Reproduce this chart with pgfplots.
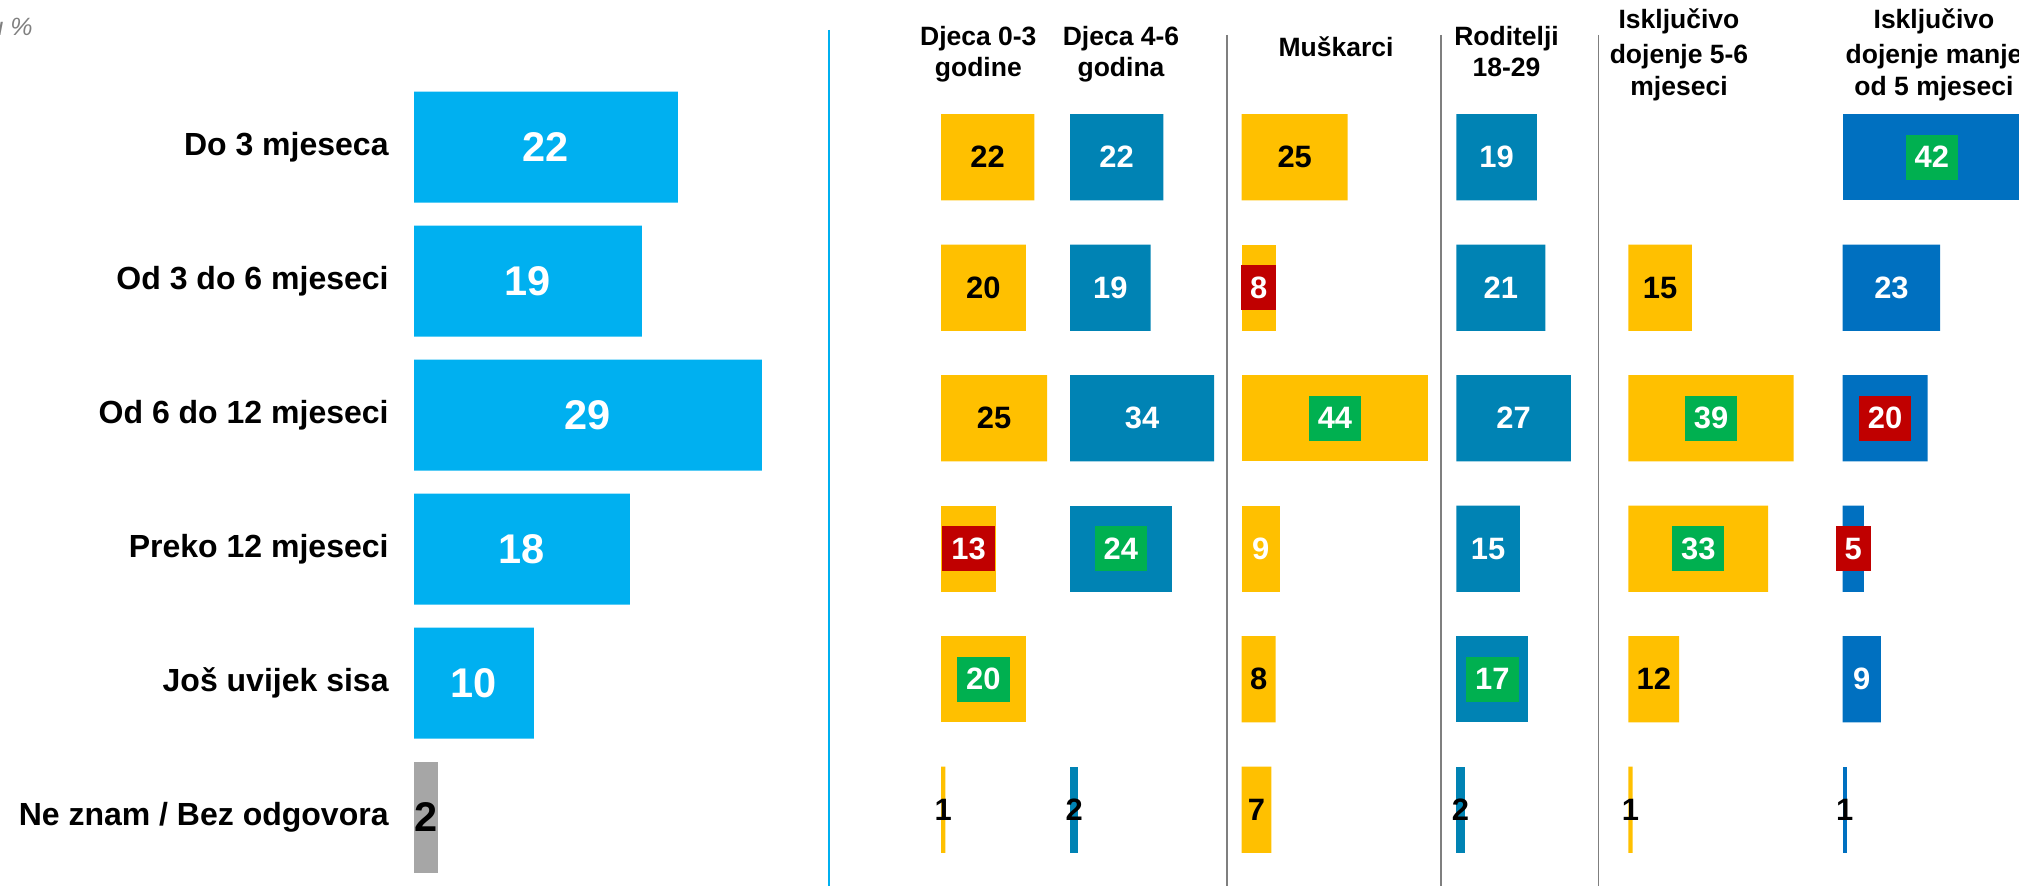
\documentclass[border=0pt]{standalone}
\usepackage{pgfplots}
\pgfplotsset{compat=1.18}
\usepackage{fontspec}
\setmainfont{Liberation Sans}
\definecolor{cLB}{HTML}{00B0F0}
\definecolor{cYel}{HTML}{FFC000}
\definecolor{cTeal}{HTML}{0083B4}
\definecolor{cBlue}{HTML}{0070C0}
\definecolor{cGray}{HTML}{A6A6A6}
\definecolor{cRed}{HTML}{C00000}
\definecolor{cGreen}{HTML}{00B050}
\definecolor{cSep}{HTML}{7F7F7F}
\newcommand\lblfont{\fontsize{16pt}{18pt}\selectfont\bfseries}
\newcommand\bignum{\fontsize{20.75pt}{24pt}\selectfont\bfseries}
\newcommand\numfont{\fontsize{15.45pt}{18pt}\selectfont\bfseries}
\newcommand\hdrfont{\fontsize{13.25pt}{16pt}\selectfont\bfseries}
\pgfplotsset{
  blk/.style={every node near coord/.append style={text=black}},
  wht/.style={every node near coord/.append style={text=white}},
  redlab/.style={every node near coord/.append style={text=white, fill=cRed, minimum height=22.5pt, inner xsep=4.5pt, inner ysep=0pt}},
  grnlab/.style={every node near coord/.append style={text=white, fill=cGreen, minimum height=22.5pt, inner xsep=4.5pt, inner ysep=0pt}},
  rcol/.style={xbar, bar shift=0pt, bar width=43.15pt, scale only axis,
    width=95.4pt, height=391.5pt, xmin=0, xmax=45, ymin=-0.5, ymax=5.5,
    y dir=reverse, hide axis, clip=false, anchor=north west,
    nodes near coords, point meta=explicit symbolic,
    visualization depends on={rawx \as \rawx},
    every node near coord/.append style={anchor=center, xshift={-\rawx*1.06pt}, font=\numfont},
    every axis plot/.append style={draw=none}},
}
\begin{document}
\begin{tikzpicture}
\path[use as bounding box] (0,0) rectangle (1009.5pt,443pt);
% separators
\draw[cLB, line width=0.6pt] (414.5pt,428pt) -- (414.5pt,0pt);
\draw[cSep, line width=0.8pt] (613.35pt,425.5pt) -- (613.35pt,0pt);
\draw[cSep, line width=0.8pt] (720.5pt,425.5pt) -- (720.5pt,0pt);
\draw[cSep, line width=0.8pt] (799.15pt,425.5pt) -- (799.15pt,0pt);
% corner note
\node[anchor=base east, inner sep=0pt, text=cSep, font=\fontsize{12.5pt}{15pt}\selectfont\itshape] at (16.5pt,425pt) {u \%};
% headers
\tikzset{hdr/.style={anchor=base, inner sep=0pt, font=\hdrfont}}
\node[hdr] at (489.15pt,420pt) {Djeca 0-3};
\node[hdr] at (489.15pt,404.7pt) {godine};
\node[hdr] at (560.5pt,420pt) {Djeca 4-6};
\node[hdr] at (560.5pt,404.7pt) {godina};
\node[hdr] at (668pt,414.85pt) {Muškarci};
\node[hdr] at (753.25pt,420pt) {Roditelji};
\node[hdr] at (753.25pt,404.7pt) {18-29};
\node[hdr] at (839.5pt,428.7pt) {Isključivo};
\node[hdr] at (839.5pt,411pt) {dojenje 5-6};
\node[hdr] at (839.5pt,395pt) {mjeseci};
\node[hdr] at (967pt,428.7pt) {Isključivo};
\node[hdr] at (967pt,411pt) {dojenje manje};
\node[hdr] at (967pt,395pt) {od 5 mjeseci};

% left panel
\begin{axis}[xbar, bar shift=0pt, bar width=55.5pt, scale only axis,
  width=210pt, height=402pt, xmin=0, xmax=35, ymin=-0.5, ymax=5.5,
  y dir=reverse, clip=false, anchor=north west, at={(207pt,402.9pt)},
  axis line style={draw=none}, major tick length=0pt, xtick=\empty,
  ytick={0,1,2,3,4,5},
  yticklabels={Do 3 mjeseca, Od 3 do 6 mjeseci, Od 6 do 12 mjeseci, Preko 12 mjeseci, Još uvijek sisa, Ne znam / Bez odgovora},
  yticklabel style={font=\lblfont, anchor=east, inner sep=0pt, xshift=-12.5pt},
  nodes near coords, point meta=explicit symbolic,
  visualization depends on={rawx \as \rawx},
  every node near coord/.append style={anchor=center, xshift={-\rawx*3pt}, font=\bignum},
  every axis plot/.append style={draw=none}]
\addplot[fill=cLB, wht] coordinates {(22,0)[22] (19,1)[19] (29,2)[29] (18,3)[18] (10,4)[10]};
\addplot[fill=cGray, blk] coordinates {(2,5)[2]};
\end{axis}

% Djeca 0-3
\begin{axis}[rcol, at={(470.5pt,397.025pt)}]
\addplot[fill=cYel, blk] coordinates {(22,0)[22] (20,1)[20] (25,2)[25] (1,5)[1]};
\addplot[fill=cYel, redlab] coordinates {(13,3)[13]};
\addplot[fill=cYel, grnlab] coordinates {(20,4)[20]};
\end{axis}
% Djeca 4-6
\begin{axis}[rcol, at={(535pt,397.025pt)}]
\addplot[fill=cTeal, wht] coordinates {(22,0)[22] (19,1)[19] (34,2)[34]};
\addplot[fill=cTeal, grnlab] coordinates {(24,3)[24]};
\addplot[fill=cTeal, blk] coordinates {(2,5)[2]};
\end{axis}
% Muskarci
\begin{axis}[rcol, at={(620.85pt,397.025pt)}]
\addplot[fill=cYel, blk] coordinates {(25,0)[25] (8,4)[8] (7,5)[7]};
\addplot[fill=cYel, redlab] coordinates {(8,1)[8]};
\addplot[fill=cYel, grnlab] coordinates {(44,2)[44]};
\addplot[fill=cYel, wht] coordinates {(9,3)[9]};
\end{axis}
% Roditelji 18-29
\begin{axis}[rcol, at={(728.15pt,397.025pt)}]
\addplot[fill=cTeal, wht] coordinates {(19,0)[19] (21,1)[21] (27,2)[27] (15,3)[15]};
\addplot[fill=cTeal, grnlab] coordinates {(17,4)[17]};
\addplot[fill=cTeal, blk] coordinates {(2,5)[2]};
\end{axis}
% Iskljucivo 5-6
\begin{axis}[rcol, at={(814.15pt,397.025pt)}]
\addplot[fill=cYel, blk] coordinates {(15,1)[15] (12,4)[12] (1,5)[1]};
\addplot[fill=cYel, grnlab] coordinates {(39,2)[39] (33,3)[33]};
\end{axis}
% Iskljucivo manje od 5
\begin{axis}[rcol, at={(921.35pt,397.025pt)}]
\addplot[fill=cBlue, grnlab] coordinates {(42,0)[42]};
\addplot[fill=cBlue, wht] coordinates {(23,1)[23] (9,4)[9]};
\addplot[fill=cBlue, redlab] coordinates {(20,2)[20] (5,3)[5]};
\addplot[fill=cBlue, blk] coordinates {(1,5)[1]};
\end{axis}
\end{tikzpicture}
\end{document}
